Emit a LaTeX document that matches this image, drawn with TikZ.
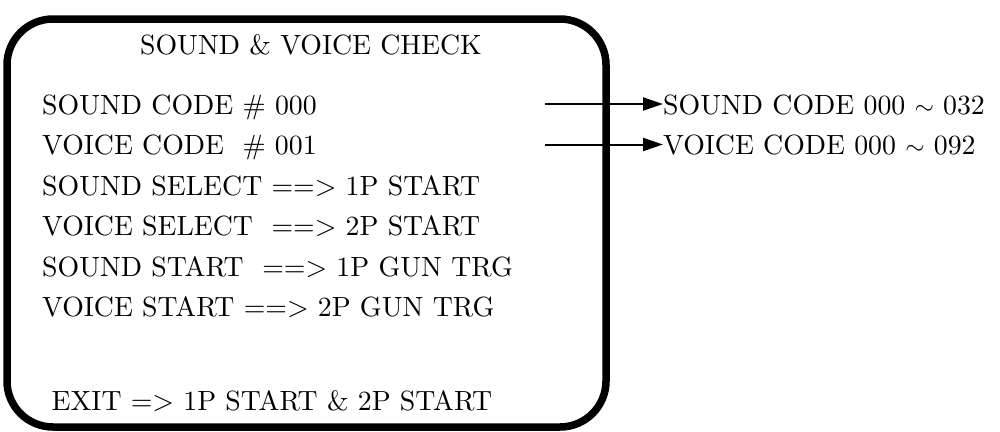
\documentclass[tikz,border=0pt]{standalone}
\usepackage{fontspec}
\setmainfont{lmroman10-regular}[Extension=.otf]
\usetikzlibrary{arrows.meta}
\begin{document}
\begin{tikzpicture}[x=1pt,y=-1pt,
  frame/.style={line width=7.5pt,rounded corners=46pt},
  txt/.style={anchor=base west,inner sep=0pt,font=\fontsize{27.8}{27.8}\selectfont},
  ttl/.style={anchor=base,inner sep=0pt,font=\fontsize{27.8}{27.8}\selectfont},
  pointer/.style={line width=2pt,-{Triangle[length=20pt,width=13pt]}}]
\useasboundingbox (0,0) rectangle (1000,431);
\draw[frame] (7,19) rectangle (606,427);
\node[ttl] (title) at (311,54) {SOUND \& VOICE CHECK};
\node[txt] (r1) at (42,114) {SOUND CODE \# 000};
\node[txt] (r2) at (42,154.5) {VOICE CODE\ \ \# 001};
\node[txt] (r3) at (42,195) {SOUND SELECT ==> 1P START};
\node[txt] (r4) at (42,235.5) {VOICE SELECT\ \ ==> 2P START};
\node[txt] (r5) at (42,276) {SOUND START\ \ ==> 1P GUN TRG};
\node[txt] (r6) at (42,316.5) {VOICE START ==> 2P GUN TRG};
\node[ttl] (exit) at (272,410) {EXIT => 1P START \& 2P START};
\node[txt] (s) at (663,114) {SOUND CODE 000 $\sim$ 032};
\node[txt] (v) at (663,154.5) {VOICE CODE 000 $\sim$ 092};
\coordinate (sa) at (545,104);
\coordinate (va) at (545,144.5);
\draw[pointer] (sa) -- (sa -| s.west);
\draw[pointer] (va) -- (va -| v.west);
\end{tikzpicture}
\end{document}
